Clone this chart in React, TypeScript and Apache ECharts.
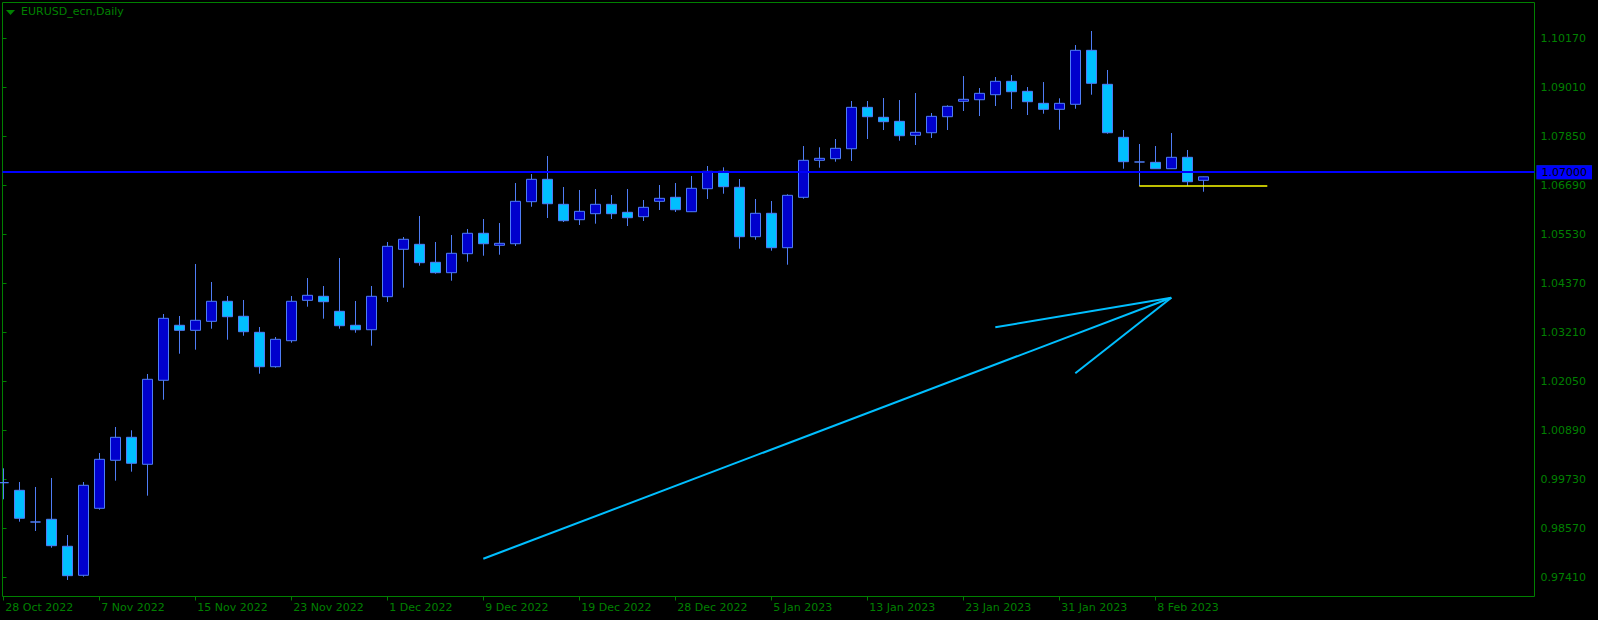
import React, { useEffect, useRef } from 'react';
import * as echarts from 'echarts';

// Bar index 0 = 28 Oct 2022, one bar per trading day, last bar = 13 Feb 2023
const opens = [
  0.99650, 0.99469, 0.98719, 0.98783, 0.98144, 0.97457, 0.99043, 1.00180, 1.00724, 1.00085,
  1.02074, 1.03376, 1.03257, 1.03470, 1.03944, 1.03589, 1.03210, 1.02395, 1.03011, 1.03967,
  1.04062, 1.03707, 1.03376, 1.03271, 1.04053, 1.05175, 1.05293, 1.04867, 1.04621, 1.05071,
  1.05554, 1.05270, 1.05307, 1.06302, 1.06832, 1.06240, 1.05876, 1.06018, 1.06240, 1.06051,
  1.05947, 1.06311, 1.06406, 1.06065, 1.06609, 1.07021, 1.06643, 1.05473, 1.06027, 1.05213,
  1.06406, 1.07282, 1.07320, 1.07556, 1.08536, 1.08300, 1.08205, 1.07874, 1.07935, 1.08314,
  1.08679, 1.08716, 1.08835, 1.09152, 1.08915, 1.08631, 1.08489, 1.08608, 1.09886, 1.09081,
  1.07826, 1.07242, 1.07234, 1.07083, 1.07353, 1.06808,
];
const closes = [
  0.99650, 0.98807, 0.98719, 0.98158, 0.97448, 0.99588, 1.00203, 1.00724, 1.00109, 1.02097,
  1.03541, 1.03257, 1.03494, 1.03944, 1.03579, 1.03224, 1.02395, 1.03044, 1.03944, 1.04086,
  1.03934, 1.03366, 1.03271, 1.04062, 1.05246, 1.05412, 1.04858, 1.04621, 1.05080, 1.05554,
  1.05307, 1.05317, 1.06311, 1.06832, 1.06254, 1.05852, 1.06074, 1.06240, 1.06018, 1.05923,
  1.06169, 1.06382, 1.06112, 1.06619, 1.07021, 1.06657, 1.05473, 1.06027, 1.05213, 1.06453,
  1.07282, 1.07329, 1.07566, 1.08536, 1.08314, 1.08196, 1.07864, 1.07945, 1.08323, 1.08560,
  1.08726, 1.08868, 1.09152, 1.08906, 1.08669, 1.08489, 1.08631, 1.09886, 1.09105, 1.07935,
  1.07249, 1.07242, 1.07083, 1.07353, 1.06775, 1.06891,
];
const lows = [
  0.99256, 0.98726, 0.98506, 0.98110, 0.97346, 0.97424, 0.99010, 0.99697, 0.99910, 0.99342,
  1.01614, 1.02703, 1.02798, 1.03295, 1.03035, 1.03129, 1.02230, 1.02372, 1.02964, 1.03816,
  1.03532, 1.03295, 1.03200, 1.02893, 1.03927, 1.04266, 1.04787, 1.04597, 1.04431, 1.04881,
  1.05023, 1.05047, 1.05253, 1.06183, 1.05916, 1.05821, 1.05750, 1.05781, 1.05892, 1.05726,
  1.05845, 1.06105, 1.06058, 1.06060, 1.06366, 1.06491, 1.05189, 1.05402, 1.05142, 1.04810,
  1.06373, 1.07107, 1.07249, 1.07265, 1.07786, 1.07999, 1.07746, 1.07644, 1.07810, 1.07999,
  1.08449, 1.08330, 1.08567, 1.08496, 1.08354, 1.08385, 1.08006, 1.08503, 1.08835, 1.07912,
  1.07083, 1.06673, 1.07080, 1.07080, 1.06673, 1.06538,
];
const highs = [
  0.99990, 0.99666, 0.99548, 0.99761, 0.98411, 0.99666, 1.00352, 1.00968, 1.00890, 1.02223,
  1.03643, 1.03596, 1.04827, 1.04401, 1.04069, 1.03975, 1.03335, 1.03099, 1.04069, 1.04495,
  1.04306, 1.04969, 1.03951, 1.04306, 1.05348, 1.05466, 1.05963, 1.05348, 1.05513, 1.05655,
  1.05892, 1.05797, 1.06744, 1.06957, 1.07384, 1.06650, 1.06579, 1.06602, 1.06460, 1.06602,
  1.06342, 1.06697, 1.06744, 1.06910, 1.07147, 1.07116, 1.06839, 1.06366, 1.06318, 1.06477,
  1.07620, 1.07590, 1.07786, 1.08686, 1.08686, 1.08757, 1.08709, 1.08875, 1.08402, 1.08584,
  1.09277, 1.08993, 1.09254, 1.09301, 1.09017, 1.09135, 1.08750, 1.10011, 1.10343, 1.09420,
  1.07999, 1.07668, 1.07620, 1.07928, 1.07526, 1.06895,
];

// date labels every 6 bars
const dateTickLabels = [
  '28 Oct 2022', '7 Nov 2022', '15 Nov 2022', '23 Nov 2022', '1 Dec 2022', '9 Dec 2022',
  '19 Dec 2022', '28 Dec 2022', '5 Jan 2023', '13 Jan 2023', '23 Jan 2023', '31 Jan 2023', '8 Feb 2023',
];
const priceTickLabels = [
  '0.97410', '0.98570', '0.99730', '1.00890', '1.02050', '1.03210',
  '1.04370', '1.05530', '1.06690', '1.07850', '1.09010', '1.10170',
];

const levelPrice = 1.07035; // blue horizontal line
const currentPrice = 1.06891; // green price tag
const supportLine = [[71, 1.06673], [79, 1.06673]]; // yellow
const fanLines = [
  [[30, 0.97848], [73, 1.04027]],
  [[62, 1.03328], [73, 1.04027]],
  [[67, 1.02242], [73, 1.04027]],
];

const GREEN = '#008000';
const FONT = 'DejaVu Sans';

export default function App() {
  const ref = useRef<HTMLDivElement>(null);
  useEffect(() => {
    document.body.style.margin = '0';
    document.body.style.background = '#000';
    const chart = echarts.init(ref.current!, null, { renderer: 'svg' });
    const candleData = opens.map((o, i) => [i, o, closes[i], lows[i], highs[i]]);
    const labelBox = (bg: string) => ({
      show: true,
      position: 'end',
      distance: 2,
      formatter: (p: any) => Number(p.value).toFixed(5),
      backgroundColor: bg,
      color: '#000',
      fontFamily: FONT,
      fontSize: 11,
      lineHeight: 12,
      padding: [1, 5, 1, 5],
    });
    chart.setOption({
      animation: false,
      backgroundColor: '#000',
      title: {
        text: 'EURUSD_ecn,Daily',
        left: 21,
        top: 6,
        padding: 0,
        textStyle: { color: GREEN, fontFamily: FONT, fontSize: 11, fontWeight: 'normal' },
      },
      graphic: [
        { type: 'polygon', shape: { points: [[6, 10], [15, 10], [10.5, 15]] }, style: { fill: GREEN } },
      ],
      grid: [
        { left: 2.5, right: 63.5, top: 2.5, bottom: 23.5, show: true, borderColor: GREEN, borderWidth: 1, backgroundColor: 'transparent' },
        { left: 2.5, right: 63.5, top: 38.3, bottom: 42.7 },
        { left: 3.3, right: 442.7, top: 2.5, bottom: 23.5 },
      ],
      xAxis: [
        { type: 'value', gridIndex: 0, min: -0.05, max: 95.7, show: false },
        { type: 'value', gridIndex: 1, min: 0, max: 1, show: false },
        {
          type: 'value', gridIndex: 2, min: 0, max: 72, interval: 6, position: 'bottom',
          axisLine: { show: false }, splitLine: { show: false },
          axisTick: { show: true, length: 4, lineStyle: { color: GREEN } },
          axisLabel: {
            formatter: (v: number) => dateTickLabels[Math.round(v / 6)] ?? '',
            align: 'left', color: GREEN, fontFamily: FONT, fontSize: 11, margin: 5,
            padding: [0, 0, 0, 2],
          },
        },
      ],
      yAxis: [
        { type: 'value', gridIndex: 0, min: 0.96955, max: 1.11018, show: false },
        {
          type: 'value', gridIndex: 1, min: 0, max: 11, interval: 1, position: 'right',
          axisLine: { show: false }, splitLine: { show: false },
          axisTick: { show: true, length: 4, lineStyle: { color: GREEN } },
          axisLabel: {
            formatter: (v: number) => priceTickLabels[Math.round(v)] ?? '',
            color: GREEN, fontFamily: FONT, fontSize: 11, margin: 6,
          },
        },
        { type: 'value', gridIndex: 2, min: 0, max: 1, show: false },
      ],
      series: [
        {
          type: 'candlestick',
          xAxisIndex: 0,
          yAxisIndex: 0,
          data: candleData,
          encode: { x: 0, y: [1, 2, 3, 4] },
          barWidth: 10,
          itemStyle: {
            color: '#0000cd',
            color0: '#00bfff',
            borderColor: '#4f7df5',
            borderColor0: '#4f7df5',
            borderColorDoji: '#4f7df5',
            borderWidth: 1,
          },
          markLine: {
            symbol: ['none', 'none'],
            silent: true,
            z: 10,
            data: [
              { yAxis: currentPrice, lineStyle: { color: 'rgba(0,0,0,0)', width: 0 }, label: labelBox(GREEN) },
              { yAxis: levelPrice, lineStyle: { color: '#0000ff', width: 2, type: 'solid' }, label: labelBox('#0000ff') },
            ],
          },
        },
        {
          type: 'line', xAxisIndex: 0, yAxisIndex: 0, data: supportLine, symbol: 'none', silent: true,
          lineStyle: { color: '#ffff00', width: 1.5 }, z: 4,
        },
        ...fanLines.map((seg) => ({
          type: 'line', xAxisIndex: 0, yAxisIndex: 0, data: seg, symbol: 'none', silent: true,
          lineStyle: { color: '#00bfff', width: 2 }, z: 4,
        })),
      ],
    });
    return () => chart.dispose();
  }, []);
  return (
    <div
      ref={ref}
      style={{ position: 'absolute', left: 0, top: 0, width: 1598, height: 620, background: '#000' }}
    />
  );
}
